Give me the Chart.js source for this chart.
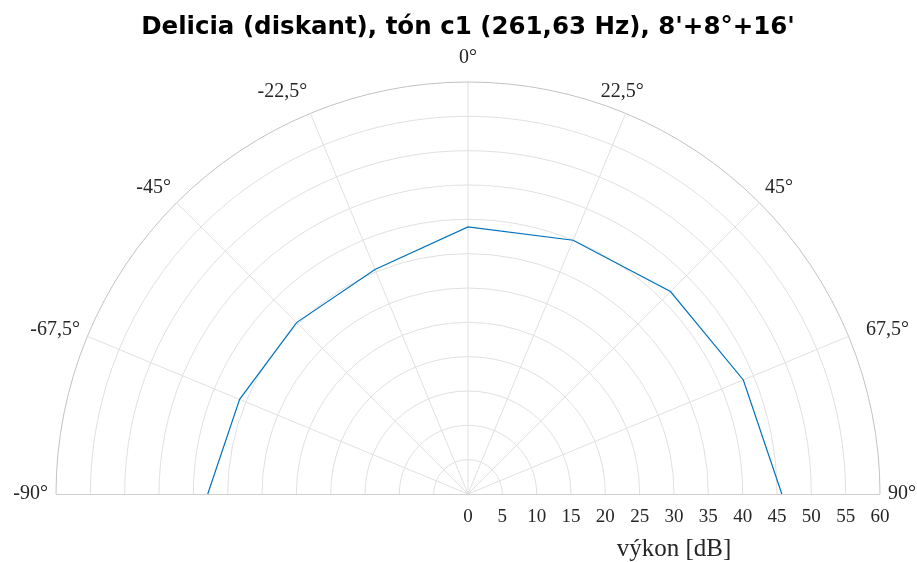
<!DOCTYPE html>
<html><head><meta charset="utf-8">
<script src="https://cdn.jsdelivr.net/npm/chart.js@4"></script>
<style>html,body{margin:0;padding:0;background:#fff}canvas{display:block}</style>
</head><body>
<canvas id="c" width="917" height="562"></canvas>
<script>
const titleText = "Delicia (diskant), tón c1 (261,63 Hz), 8'+8°+16'";
const anglesDeg = [-90, -67.5, -45, -22.5, 0, 22.5, 45, 67.5, 90];
const powerDb = [37.9, 36.0, 35.3, 35.4, 38.9, 40.0, 41.7, 43.4, 45.7];
const angleTicks = [-90, -67.5, -45, -22.5, 0, 22.5, 45, 67.5, 90];
const angleTickLabels = ['-90°', '-67,5°', '-45°', '-22,5°', '0°', '22,5°', '45°', '67,5°', '90°'];
const radialTicks = [0, 5, 10, 15, 20, 25, 30, 35, 40, 45, 50, 55, 60];
const radialTitle = 'výkon [dB]';
const rMax = 60;

// label layout nudges (px), not data
const angleLabelNudgeX = [0, 0, 0, 0, 0, -28, 0, 10, 0];

const rad = d => d * Math.PI / 180;
const points = anglesDeg.map((a, i) => ({ x: powerDb[i] * Math.sin(rad(a)), y: powerDb[i] * Math.cos(rad(a)) }));

const serif = '"Liberation Serif", "DejaVu Serif", serif';
const textColor = '#262626';

function geom(chart) {
  const xs = chart.scales.x, ys = chart.scales.y;
  const cx = xs.getPixelForValue(0), cy = ys.getPixelForValue(0);
  const k = (xs.getPixelForValue(rMax) - cx) / rMax;
  return { cx, cy, k, R: rMax * k };
}

const polarGrid = {
  id: 'polarGrid',
  beforeDatasetsDraw(chart) {
    const ctx = chart.ctx; const g = geom(chart);
    ctx.save();
    ctx.lineWidth = 1;
    ctx.strokeStyle = '#e0e0e0';
    radialTicks.forEach(v => {
      if (v <= 0 || v >= rMax) return;
      ctx.beginPath(); ctx.arc(g.cx, g.cy, v * g.k, Math.PI, 2 * Math.PI); ctx.stroke();
    });
    angleTicks.forEach(a => {
      if (Math.abs(a) === 90) return;
      ctx.beginPath();
      ctx.moveTo(g.cx, g.cy);
      ctx.lineTo(g.cx + g.R * Math.sin(rad(a)), g.cy - g.R * Math.cos(rad(a)));
      ctx.stroke();
    });
    ctx.strokeStyle = '#cfcfcf';
    ctx.beginPath(); ctx.moveTo(g.cx - g.R, g.cy + 0.5); ctx.lineTo(g.cx + g.R, g.cy + 0.5); ctx.stroke();
    ctx.strokeStyle = '#c2c2c2';
    ctx.beginPath(); ctx.arc(g.cx, g.cy, g.R, Math.PI, 2 * Math.PI); ctx.stroke();
    ctx.restore();
  },
  afterDraw(chart) {
    const ctx = chart.ctx; const g = geom(chart);
    ctx.save();
    ctx.fillStyle = textColor;
    ctx.font = '20px ' + serif;
    ctx.textBaseline = 'middle';
    angleTicks.forEach((a, i) => {
      const s = Math.sin(rad(a)), c = Math.cos(rad(a));
      const rl = g.R + 8;
      const x = g.cx + rl * s + angleLabelNudgeX[i];
      const y = g.cy - rl * c - 16 * Math.pow(c, 1.5);
      ctx.textAlign = a > 0 ? 'left' : (a < 0 ? 'right' : 'center');
      ctx.fillText(angleTickLabels[i], x, y);
    });
    ctx.textAlign = 'center';
    ctx.font = '19px ' + serif;
    radialTicks.forEach(v => {
      ctx.fillText(String(v), g.cx + v * g.k, g.cy + 23);
    });
    ctx.font = '25px ' + serif;
    ctx.fillText(radialTitle, g.cx + g.R / 2, g.cy + 55);
    ctx.restore();
  }
};

new Chart(document.getElementById('c'), {
  type: 'scatter',
  data: { datasets: [{
    data: points, showLine: true, borderColor: '#0072BD', backgroundColor: '#0072BD',
    borderWidth: 1.2, pointRadius: 0, tension: 0, fill: false
  }] },
  options: {
    responsive: false, animation: false,
    layout: { padding: { left: 56, right: 37, top: 0, bottom: 68 } },
    scales: {
      x: { type: 'linear', min: -rMax, max: rMax, display: false },
      y: { type: 'linear', min: 0, max: rMax, display: false }
    },
    plugins: {
      legend: { display: false }, tooltip: { enabled: false },
      title: { display: true, text: titleText, color: '#000',
        font: { family: '"DejaVu Sans", sans-serif', size: 24.5, weight: 'bold' },
        padding: { top: 13.3, bottom: 39.3 } }
    }
  },
  plugins: [polarGrid]
});
</script>
</body></html>
